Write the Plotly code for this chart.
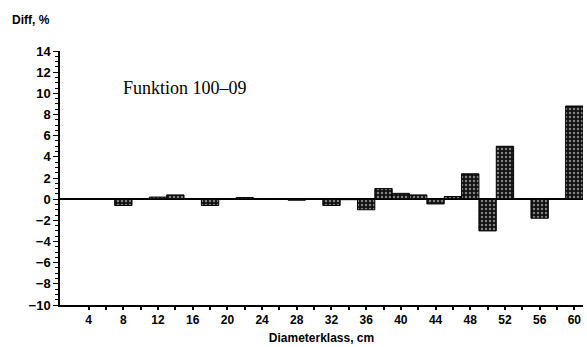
import plotly.graph_objects as go

classes = list(range(2, 62, 2))
diff = [0, 0, 0, -0.6, 0, 0.2, 0.4, 0, -0.6, 0,
        0.15, 0.05, 0, -0.1, 0.05, -0.6, -0.05, -1.0, 1.0, 0.55,
        0.4, -0.45, 0.25, 2.4, -3.0, 5.0, 0, -1.8, 0, 8.8]
x_tickvals = list(range(4, 62, 2))
x_ticktext = [str(v) if v % 4 == 0 else "" for v in x_tickvals]
y_tickvals = list(range(-10, 16, 2))

sans = "Liberation Sans, Arial, sans-serif"

fig = go.Figure(go.Bar(
    x=classes, y=diff, width=2,
    marker=dict(color="#111111",
                line=dict(color="black", width=1),
                pattern=dict(shape=".", fgcolor="#f0f0f0", bgcolor="#111111",
                             size=4, solidity=0.3)),
))

fig.update_layout(
    width=587, height=347,
    margin=dict(l=60, r=4, t=51, b=40),
    paper_bgcolor="white", plot_bgcolor="white",
    showlegend=False,
    font=dict(family=sans, size=12, color="black"),
    xaxis=dict(range=[0.7, 61], tickmode="array", tickvals=x_tickvals, ticktext=x_ticktext,
               ticks="outside", ticklen=3, tickwidth=1.5, tickcolor="black",
               showline=True, linecolor="black", linewidth=1.5,
               showgrid=False, zeroline=False,
               tickfont=dict(family=sans, size=12, weight="bold"),
               title=dict(text="Diameterklass, cm", standoff=7,
                          font=dict(family=sans, size=12, weight="bold"))),
    yaxis=dict(range=[-10, 14], tickmode="array", tickvals=y_tickvals,
               ticks="outside", ticklen=5, tickwidth=1, tickcolor="black",
               minor=dict(dtick=0.5, tick0=0, ticks="outside", ticklen=3, tickcolor="black"),
               showline=True, linecolor="black", linewidth=1.5,
               showgrid=False, zeroline=True, zerolinecolor="black", zerolinewidth=1.5,
               tickfont=dict(family=sans, size=13, weight="bold")),
    annotations=[
        dict(text="Diff, %", x=10, y=20, xref="paper", yref="paper",
             xanchor="left", yanchor="middle", showarrow=False,
             font=dict(family=sans, size=12, weight="bold")),
        dict(text="Funktion 100\u201309", x=121, y=88, xref="paper", yref="paper",
             xanchor="left", yanchor="middle", showarrow=False,
             font=dict(family="Liberation Serif, Times New Roman, serif", size=18)),
    ],
)

# convert pixel positions of annotations to paper coordinates
pw = 587 - 60 - 4
ph = 347 - 51 - 40
for a in fig.layout.annotations:
    a.x = (a.x - 60) / pw
    a.y = (347 - 40 - a.y) / ph

fig.write_html("out.html", config={"displayModeBar": False},
               post_script="document.body.style.margin='0';document.body.style.overflow='hidden';")
